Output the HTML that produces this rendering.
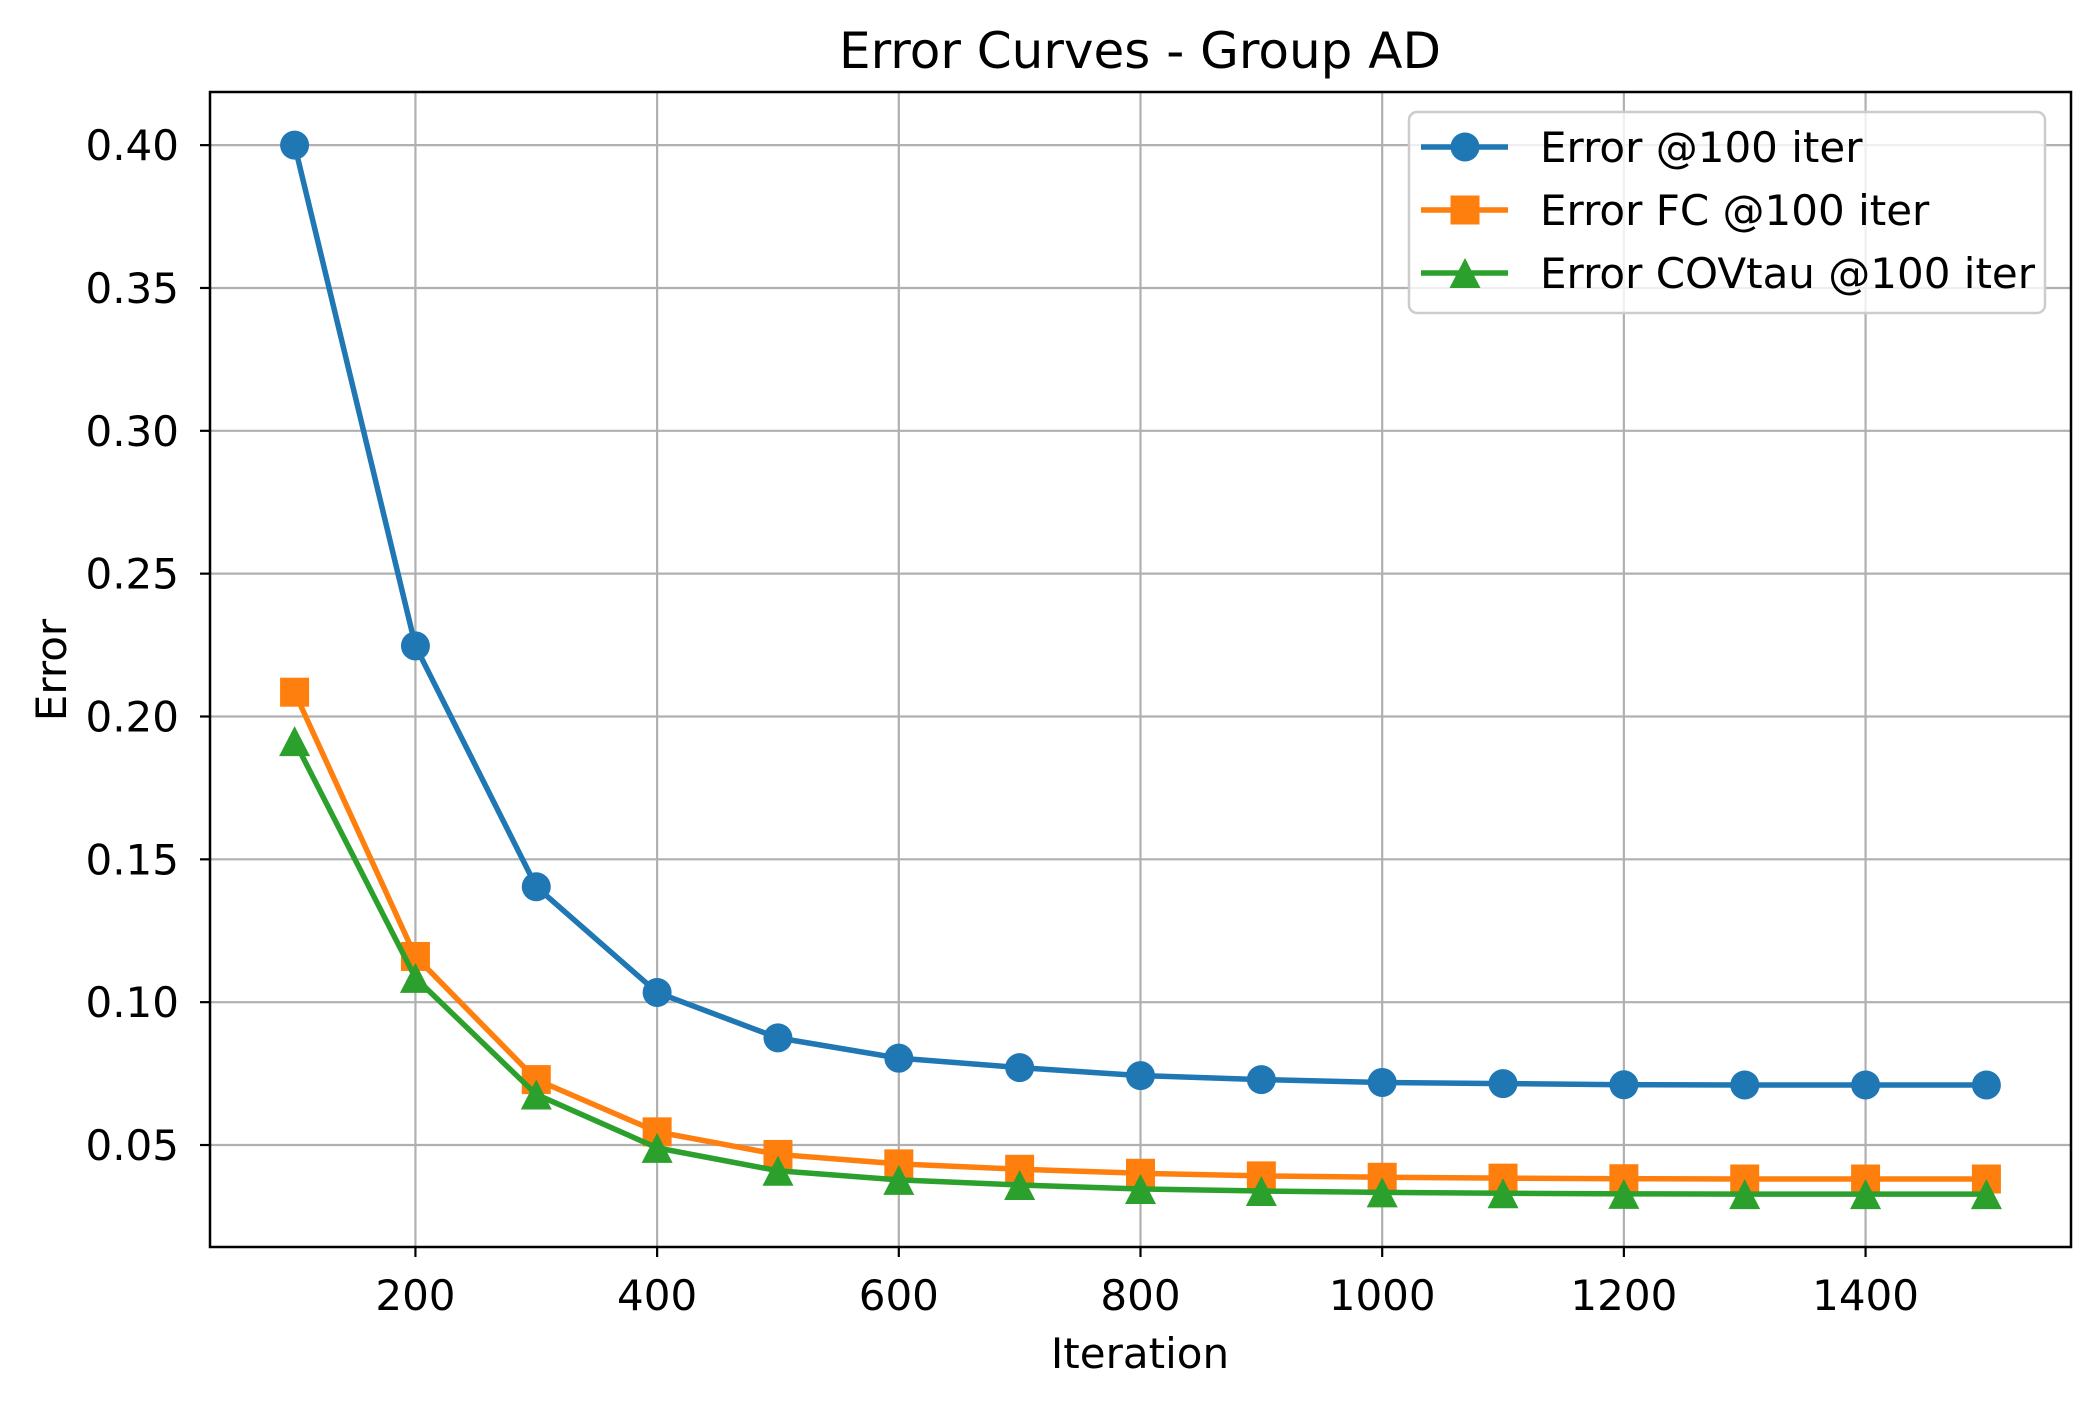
<!DOCTYPE html>
<html><head><meta charset="utf-8">
<style>
html,body{margin:0;padding:0;background:#fff;}
svg{display:block;font-family:"DejaVu Sans","Liberation Sans",sans-serif;}
</style></head>
<body>
<svg id="chart" width="2100" height="1407" viewBox="0 0 2100 1407" xmlns="http://www.w3.org/2000/svg">
<rect x="0" y="0" width="2100" height="1407" fill="#fff"/>
<text x="1140" y="68" font-size="50" text-anchor="middle">Error Curves - Group AD</text>
<text x="1140" y="1368" font-size="42" text-anchor="middle">Iteration</text>
<text transform="translate(66,670) rotate(-90)" font-size="42" text-anchor="middle">Error</text>
<g id="grid"></g>
<g id="series"></g>
<rect x="210" y="92" width="1861" height="1155" fill="none" stroke="#000" stroke-width="2.5"/>
<g id="ticks"></g>
<g id="legend"></g>
</svg>
<script>
const iterations = [100,200,300,400,500,600,700,800,900,1000,1100,1200,1300,1400,1500];
const errorBase = [0.400,0.2247,0.1404,0.1034,0.0875,0.0804,0.0771,0.0743,0.0729,0.0719,0.0715,0.0711,0.0710,0.0710,0.0710];
const errorFC = [0.2085,0.1160,0.0729,0.0546,0.0467,0.0434,0.0415,0.0401,0.0392,0.0387,0.0384,0.0382,0.0381,0.0381,0.0381];
const errorCOV = [0.1914,0.1085,0.0677,0.0490,0.0410,0.0378,0.0360,0.0346,0.0339,0.0334,0.0331,0.0329,0.0328,0.0328,0.0328];
const xTicks = [200,400,600,800,1000,1200,1400];
const yTicks = [0.05,0.10,0.15,0.20,0.25,0.30,0.35,0.40];
const yTickLabels = ["0.05","0.10","0.15","0.20","0.25","0.30","0.35","0.40"];
const seriesNames = ["Error @100 iter","Error FC @100 iter","Error COVtau @100 iter"];

const NS = "http://www.w3.org/2000/svg";
const L=210,R=2071,T=92,B=1247;
const xMin=30,xMax=1570,yMin=0.0143,yMax=0.4186;
function xs(v){return L+(v-xMin)/(xMax-xMin)*(R-L);}
function ys(v){return B-(v-yMin)/(yMax-yMin)*(B-T);}
function mk(tag,attrs,parent){const e=document.createElementNS(NS,tag);for(const k in attrs)e.setAttribute(k,attrs[k]);parent.appendChild(e);return e;}

const grid=document.getElementById('grid'), ticks=document.getElementById('ticks');
xTicks.forEach(function(v){
  const gl=mk('line',{x1:xs(v),x2:xs(v),y1:T,y2:B,stroke:'#b0b0b0','stroke-width':2.2},grid);
  
  
  const tk=mk('line',{x1:xs(v),x2:xs(v),y1:B,y2:B+10,stroke:'#000','stroke-width':2.2},ticks);
  
  
  const tx=mk('text',{x:xs(v),y:1310,'font-size':42,'text-anchor':'middle'},ticks);
  tx.textContent=String(v);
  
  
});
yTicks.forEach(function(v,i){
  const gl=mk('line',{x1:L,x2:R,y1:ys(v),y2:ys(v),stroke:'#b0b0b0','stroke-width':2.2},grid);
  
  
  const tk=mk('line',{x1:L-10,x2:L,y1:ys(v),y2:ys(v),stroke:'#000','stroke-width':2.2},ticks);
  
  
  const tx=mk('text',{x:179,y:ys(v)+15,'font-size':42,'text-anchor':'end'},ticks);
  tx.textContent=yTickLabels[i];
  
  
});

function marker(kind,cx,cy,color,parent){
  let m;
  if(kind==='circle'){m=mk('circle',{cx:cx,cy:cy,r:14.5,fill:color},parent);}
  else if(kind==='square'){m=mk('rect',{x:cx-14.5,y:cy-14.5,width:29,height:29,fill:color},parent);}
  else {m=mk('polygon',{points:(cx)+','+(cy-15)+' '+(cx-15.5)+','+(cy+15)+' '+(cx+15.5)+','+(cy+15),fill:color},parent);}
  return m;
}
const sg=document.getElementById('series');
const allSeries=[[errorBase,'#1f77b4','circle','series-error'],[errorFC,'#ff7f0e','square','series-error-fc'],[errorCOV,'#2ca02c','triangle','series-error-covtau']];
allSeries.forEach(function(s){
  const g=mk('g',{},sg);
  
  
  const pts=iterations.map(function(x,i){return xs(x)+','+ys(s[0][i]);}).join(' ');
  const pl=mk('polyline',{points:pts,fill:'none',stroke:s[1],'stroke-width':5.5,'stroke-linejoin':'round'},g);
  
  
  iterations.forEach(function(x,i){
    const m=marker(s[2],xs(x),ys(s[0][i]),s[1],g);
    
    
  });
});

const lg=document.getElementById('legend');
const box=mk('rect',{x:1409,y:112,width:636,height:201,rx:8,fill:'#fff','fill-opacity':0.8,stroke:'#cccccc','stroke-width':2.5},lg);


const rowsY=[147,210,273];
allSeries.forEach(function(s,i){
  const g=mk('g',{},lg);
  
  
  mk('line',{x1:1421,x2:1508,y1:rowsY[i],y2:rowsY[i],stroke:s[1],'stroke-width':5.5},g);
  marker(s[2],1465,rowsY[i],s[1],g);
  const t=mk('text',{x:1540,y:rowsY[i]+15,'font-size':42},g);
  t.textContent=seriesNames[i];
});
</script>
</body></html>
